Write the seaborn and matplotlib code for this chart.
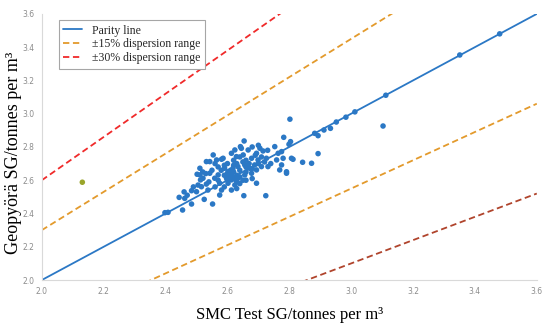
import matplotlib
matplotlib.use("Agg")
import matplotlib.pyplot as plt
import numpy as np
import pandas as pd
import seaborn as sns

# measured pairs (SMC test SG, Geopyörä SG)
smc_sg = [
    2.654, 2.782, 2.753, 2.804, 2.705, 2.715, 2.694, 2.667, 2.645, 2.624,
    2.613, 2.629, 2.651, 2.678, 2.586, 2.565, 2.543, 2.532, 2.511, 2.511,
    2.505, 2.516, 2.543, 2.559, 2.570, 2.591, 2.602, 2.613, 2.618, 2.634,
    2.656, 2.672, 2.688, 2.710, 2.726, 2.731, 2.759, 2.780, 2.775, 2.769,
    2.791, 2.807, 2.764, 2.597, 2.613, 2.602, 2.624, 2.634, 2.656, 2.678,
    2.694, 2.575, 2.581, 2.575, 2.613, 2.653, 2.724, 2.537, 2.521, 2.500,
    2.802, 2.799, 2.775, 2.812, 2.791, 2.699, 2.694, 2.552, 2.525, 2.554,
    2.502, 2.513, 2.532, 2.484, 2.462, 2.444, 2.455, 2.484, 2.408, 2.398,
    2.581, 2.642,
    2.882, 2.893, 2.912, 2.933, 2.952, 2.983, 3.012, 3.112, 3.103, 2.893,
    2.843, 2.872, 3.351, 3.480,
    2.60, 2.61, 2.62, 2.63, 2.64, 2.62, 2.60, 2.63, 2.65, 2.66,
    2.64, 2.61, 2.59, 2.60, 2.62, 2.63, 2.65, 2.67, 2.68, 2.66,
    2.59, 2.58, 2.57, 2.62, 2.64, 2.66, 2.70, 2.72, 2.74, 2.69,
    2.71, 2.73, 2.68, 2.70, 2.56, 2.55, 2.53, 2.52, 2.49, 2.47,
    2.46, 2.54, 2.56, 2.57, 2.59, 2.63, 2.64, 2.66, 2.68,
]
geo_sg = [
    2.836, 2.858, 2.802, 2.832, 2.792, 2.776, 2.762, 2.782, 2.792, 2.782,
    2.762, 2.742, 2.752, 2.732, 2.732, 2.722, 2.712, 2.712, 2.672, 2.632,
    2.571, 2.561, 2.642, 2.612, 2.632, 2.672, 2.651, 2.632, 2.672, 2.682,
    2.692, 2.672, 2.692, 2.682, 2.732, 2.682, 2.722, 2.732, 2.692, 2.662,
    2.651, 2.732, 2.762, 2.612, 2.602, 2.582, 2.571, 2.612, 2.632, 2.642,
    2.582, 2.582, 2.541, 2.511, 2.541, 2.507, 2.507, 2.541, 2.612, 2.531,
    2.967, 2.816, 2.772, 2.726, 2.642, 2.722, 2.662, 2.457, 2.485, 2.752,
    2.636, 2.602, 2.577, 2.537, 2.491, 2.497, 2.421, 2.457, 2.407, 2.405,
    2.726, 2.802,
    2.882, 2.868, 2.902, 2.912, 2.950, 2.979, 3.011, 3.111, 2.926, 2.760,
    2.708, 2.702, 3.353, 3.480,
    2.64, 2.66, 2.65, 2.63, 2.66, 2.69, 2.70, 2.70, 2.71, 2.65,
    2.62, 2.62, 2.63, 2.60, 2.61, 2.59, 2.60, 2.70, 2.67, 2.68,
    2.69, 2.66, 2.68, 2.72, 2.74, 2.72, 2.70, 2.71, 2.70, 2.75,
    2.74, 2.78, 2.80, 2.81, 2.70, 2.66, 2.64, 2.65, 2.56, 2.51,
    2.53, 2.59, 2.56, 2.60, 2.56, 2.55, 2.58, 2.60, 2.61,
]

# odd point in the upper left
outlier_smc = [2.131]
outlier_geo = [2.588]

# reference lines: parity, ±15 %, ±30 %
line_x = [2.0, 3.6]
band_15 = 0.15
band_30 = 0.30

ticks = [2.0, 2.2, 2.4, 2.6, 2.8, 3.0, 3.2, 3.4, 3.6]

pts = pd.DataFrame({"smc": smc_sg, "geo": geo_sg})
lx = np.array(line_x)

sns.set_theme(style="white")
serif = ["Liberation Serif", "DejaVu Serif"]

fig, ax = plt.subplots(figsize=(5.5, 3.23), dpi=100)
fig.subplots_adjust(left=0.076, right=0.976, top=0.957, bottom=0.133)

blue = "#2B78C5"
orange = "#E39A2C"
red = "#F02A2A"

sns.lineplot(x=lx, y=lx, ax=ax, color=blue, lw=1.3, label="Parity line")
sns.lineplot(x=lx, y=lx * (1 + band_15), ax=ax, color=orange, lw=1.3,
             label="±15% dispersion range")
sns.lineplot(x=lx, y=lx * (1 + band_30), ax=ax, color=red, lw=1.3,
             label="±30% dispersion range")
sns.lineplot(x=lx, y=lx * (1 - band_15), ax=ax, color=orange, lw=1.3)
sns.lineplot(x=lx, y=lx * (1 - band_30), ax=ax, color="#B0442C", lw=1.3)
for ln in ax.lines[1:]:
    ln.set_linestyle((0, (3.5, 2)))

sns.scatterplot(data=pts, x="smc", y="geo", ax=ax, color=blue, s=16,
                edgecolor="none", zorder=3)
sns.scatterplot(x=outlier_smc, y=outlier_geo, ax=ax, color="#9AA52A", s=16,
                edgecolor="none", zorder=3)

ax.set_xlim(2.0, 3.6)
ax.set_ylim(2.0, 3.6)
ax.set_xticks(ticks)
ax.set_yticks(ticks)
ax.set_xticklabels([f"{t:.1f}" for t in ticks])
ax.set_yticklabels([f"{t:.1f}" for t in ticks])
ax.tick_params(axis="both", labelsize=5.5, colors="#8C8C8C", length=0, pad=5)

for side in ["top", "right"]:
    ax.spines[side].set_visible(False)
for side in ["left", "bottom"]:
    ax.spines[side].set_color("#D9D9D9")
    ax.spines[side].set_linewidth(0.8)

ax.set_xlabel("SMC Test SG/tonnes per m³", family=serif, fontsize=12,
              color="black", labelpad=8)
ax.set_ylabel("Geopyörä SG/tonnes per m³", family=serif, fontsize=13,
              color="black")
ax.yaxis.set_label_coords(-0.040, 0.477)

leg = ax.legend(loc="upper left", bbox_to_anchor=(0.022, 1.0), fancybox=False,
                prop={"family": serif, "size": 8.5}, handlelength=1.6,
                borderpad=0.4, labelspacing=0.15, framealpha=1)
leg.get_frame().set_edgecolor("#A6A6A6")
leg.get_frame().set_linewidth(0.8)

plt.savefig("out.png", dpi=100)
